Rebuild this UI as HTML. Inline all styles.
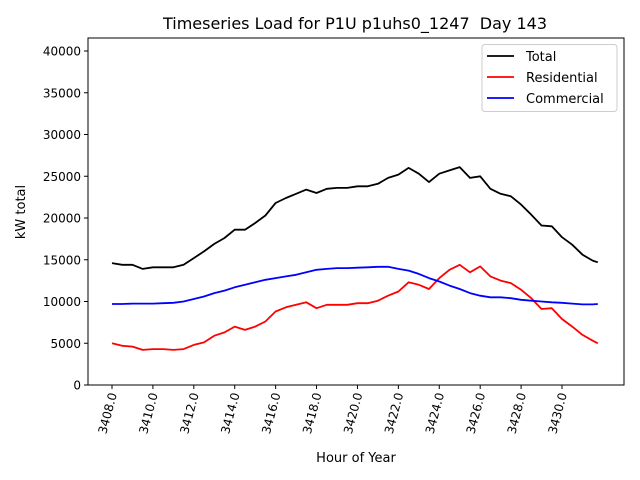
<!DOCTYPE html>
<html><head><meta charset="utf-8"><style>
html,body{margin:0;padding:0;background:#fff;}
svg{display:block;font-family:"DejaVu Sans","Liberation Sans",sans-serif;}
</style></head><body>
<svg id="c" width="640" height="480" viewBox="0 0 640 480"></svg>
<script>
const hours=[3408,3408.5,3409,3409.5,3410,3410.5,3411,3411.5,3412,3412.5,3413,3413.5,3414,3414.5,3415,3415.5,3416,3416.5,3417,3417.5,3418,3418.5,3419,3419.5,3420,3420.5,3421,3421.5,3422,3422.5,3423,3423.5,3424,3424.5,3425,3425.5,3426,3426.5,3427,3427.5,3428,3428.5,3429,3429.5,3430,3430.5,3431,3431.5,3431.75];
const totalVals=[14600,14400,14400,13900,14100,14100,14100,14400,15200,16000,16900,17600,18600,18600,19400,20300,21800,22400,22900,23400,23000,23500,23600,23600,23800,23800,24100,24800,25200,26000,25300,24300,25300,25700,26100,24800,25000,23500,22900,22600,21600,20400,19100,19000,17700,16800,15600,14900,14700];
const residentialVals=[5000,4700,4600,4200,4300,4300,4200,4300,4800,5100,5900,6300,7000,6600,7000,7600,8800,9300,9600,9900,9200,9600,9600,9600,9800,9800,10100,10700,11200,12300,12000,11500,12800,13800,14400,13500,14200,13000,12500,12200,11400,10400,9100,9200,7900,7000,6000,5300,5000];
const commercialVals=[9700,9700,9750,9750,9750,9800,9850,10000,10300,10600,11000,11300,11700,12000,12300,12600,12800,13000,13200,13500,13800,13900,14000,14000,14050,14100,14150,14150,13900,13700,13300,12800,12400,11900,11500,11000,10700,10500,10500,10400,10200,10100,10000,9900,9850,9750,9650,9650,9700];
const yTicks=[0,5000,10000,15000,20000,25000,30000,35000,40000];
const xTicks=[3408,3410,3412,3414,3416,3418,3420,3422,3424,3426,3428,3430];
const xTickLabels=["3408.0","3410.0","3412.0","3414.0","3416.0","3418.0","3420.0","3422.0","3424.0","3426.0","3428.0","3430.0"];

const L=88,R=624,T=38,B=385;
const X=h=>112+(h-3408)*(450/22);
const Y=v=>B-v*(334/40000);
const svg=document.getElementById('c');
const NS='http://www.w3.org/2000/svg';
function mk(tag,attrs,parent){const e=document.createElementNS(NS,tag);for(const k in attrs)e.setAttribute(k,attrs[k]);(parent||svg).appendChild(e);return e;}

const title=mk('text',{x:355,y:29,'text-anchor':'middle','font-size':16,fill:'#000'});


title.textContent='Timeseries Load for P1U p1uhs0_1247\u00a0 Day 143';

yTicks.forEach(v=>{
  const t=mk('line',{x1:L-4,x2:L,y1:Y(v),y2:Y(v),stroke:'#000','stroke-width':1});
  
  
  const l=mk('text',{x:L-7,y:Y(v)+4.5,'text-anchor':'end','font-size':12,fill:'#000'});
  
  
  l.textContent=v;
});
xTicks.forEach((h,i)=>{
  const t=mk('line',{x1:X(h),x2:X(h),y1:B,y2:B+4,stroke:'#000','stroke-width':1});
  
  
  const l=mk('text',{x:0,y:0,'text-anchor':'end','font-size':12,fill:'#000',transform:`translate(${X(h)+5},${B+9}) rotate(-75)`});
  
  
  l.textContent=xTickLabels[i];
});

function line(vals,color,name){
  const d=vals.map((v,i)=>(i?'L':'M')+X(hours[i]).toFixed(1)+','+Y(v).toFixed(1)).join('');
  const p=mk('path',{d:d,fill:'none',stroke:color,'stroke-width':1.8,'stroke-linejoin':'round'});
  
  
}
line(totalVals,'#000','total-line');
line(residentialVals,'#ff0000','residential-line');
line(commercialVals,'#0000ff','commercial-line');

const frame=mk('rect',{x:L,y:T,width:R-L,height:B-T,fill:'none',stroke:'#000','stroke-width':1});



const xt=mk('text',{x:356,y:462,'text-anchor':'middle','font-size':13,fill:'#000'});


xt.textContent='Hour of Year';
const yt=mk('text',{x:0,y:0,'text-anchor':'middle','font-size':13,fill:'#000',transform:'translate(25,212) rotate(-90)'});


yt.textContent='kW total';

const lg=mk('g',{});


mk('rect',{x:482,y:44.5,width:135,height:67,rx:3,fill:'#fff',stroke:'#ccc','stroke-width':1},lg);
[['Total','#000',60],['Residential','#ff0000',81],['Commercial','#0000ff',102]].forEach(([n,c,y])=>{
  mk('line',{x1:487,x2:514,y1:y-4,y2:y-4,stroke:c,'stroke-width':1.8},lg);
  const t=mk('text',{x:526,y:y+1,'font-size':13,fill:'#000'},lg);
  
  
  t.textContent=n;
});
</script>
</body></html>
